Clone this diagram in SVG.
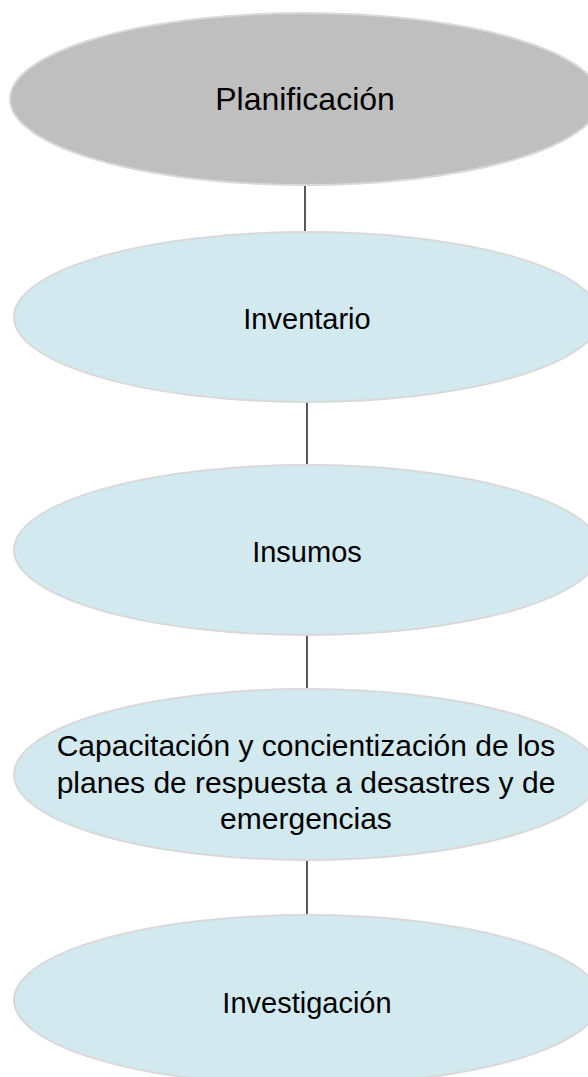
<svg xmlns="http://www.w3.org/2000/svg" width="588" height="1077" viewBox="0 0 588 1077">
<style>
.n{stroke:#d9d9d9;stroke-width:2}
.g{fill:#bfbfbf}
.b{fill:#d2e9ef}
.t{font-family:"Liberation Sans",Arial,sans-serif;fill:#000;text-anchor:middle}
.c{stroke:#000;stroke-width:1.3;fill:none}
</style>
<rect width="588" height="1077" fill="#fff"/>
<g id="connectors">
<line class="c" x1="305" y1="185" x2="305" y2="232"/>
<line class="c" x1="307" y1="402" x2="307" y2="465"/>
<line class="c" x1="307" y1="635" x2="307" y2="689"/>
<line class="c" x1="307" y1="860" x2="307" y2="915"/>
</g>
<g id="node-planificacion">
<ellipse class="n g" cx="305" cy="99" rx="295" ry="86"/>
<text class="t" x="305" y="110" font-size="32">Planificación</text>
</g>
<g id="node-inventario">
<ellipse class="n b" cx="307" cy="317" rx="293" ry="85"/>
<text class="t" x="307" y="329" font-size="29">Inventario</text>
</g>
<g id="node-insumos">
<ellipse class="n b" cx="307" cy="550" rx="293" ry="85"/>
<text class="t" x="307" y="562" font-size="29">Insumos</text>
</g>
<g id="node-capacitacion">
<ellipse class="n b" cx="307" cy="774.5" rx="293" ry="85.5"/>
<text class="t" font-size="30"><tspan x="306" y="756">Capacitación y concientización de los</tspan><tspan x="306" y="793">planes de respuesta a desastres y de</tspan><tspan x="306" y="829">emergencias</tspan></text>
</g>
<g id="node-investigacion">
<ellipse class="n b" cx="307" cy="1000" rx="293" ry="85"/>
<text class="t" x="307" y="1013" font-size="29">Investigación</text>
</g>
</svg>
